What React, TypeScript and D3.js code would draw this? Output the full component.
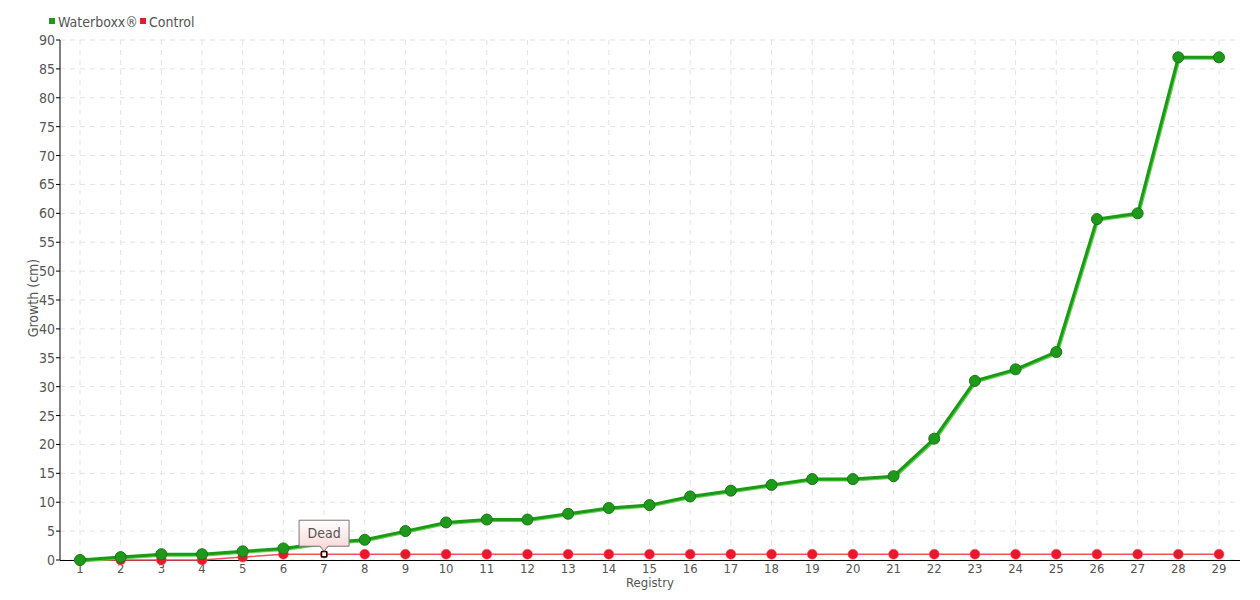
import React from "react";
import * as d3 from "d3";

const categories = [1,2,3,4,5,6,7,8,9,10,11,12,13,14,15,16,17,18,19,20,21,22,23,24,25,26,27,28,29];
const waterboxx = [0,0.5,1,1,1.5,2,3,3.5,5,6.5,7,7,8,9,9.5,11,12,13,14,14,14.5,21,31,33,36,59,60,87,87];
const control = [0,0,0,0,0.5,1,1,1,1,1,1,1,1,1,1,1,1,1,1,1,1,1,1,1,1,1,1,1,1];
const yTicks = [0,5,10,15,20,25,30,35,40,45,50,55,60,65,70,75,80,85,90];
const seriesNames = ["Waterboxx®", "Control"];
const deadIndex = 6;
const deadLabel = "Dead";

const W = 1260, H = 600;
const FONT = "'DejaVu Sans Condensed', 'Liberation Sans Narrow', sans-serif";

export default function App() {
  const x = d3.scaleLinear().domain([1, 29]).range([80, 1219]);
  const y = d3.scaleLinear().domain([0, 90]).range([560, 40]);
  const line = d3.line<number>().x((_, i) => x(categories[i])).y(d => y(d));
  const dx = x(categories[deadIndex]);
  const dy = y(control[deadIndex]);
  return (
    <svg width={W} height={H} style={{ position: "absolute", left: 0, top: 0, fontFamily: FONT }}>
      <defs>
        <linearGradient id="tip" x1="0" y1="0" x2="0" y2="1">
          <stop offset="0" stopColor="#ffffff" />
          <stop offset="1" stopColor="#fbd3d3" />
        </linearGradient>
      </defs>
      {/* grid */}
      {yTicks.map(t => (
        <line key={"gy" + t} x1={60} x2={1240} y1={y(t)} y2={y(t)} stroke="#e3e3e3" strokeDasharray="5,5" />
      ))}
      {categories.map(c => (
        <line key={"gx" + c} x1={x(c)} x2={x(c)} y1={40} y2={560} stroke="#e3e3e3" strokeDasharray="5,5" />
      ))}
      {/* axes */}
      <line x1={60} x2={60} y1={40} y2={560} stroke="#000" />
      <line x1={60} x2={1240} y1={560.5} y2={560.5} stroke="#000" />
      {yTicks.map(t => (
        <g key={"ty" + t}>
          <line x1={56} x2={60} y1={y(t)} y2={y(t)} stroke="#000" />
          <text x={55} y={y(t) + 5} textAnchor="end" fontSize={14} fill="#555">{t}</text>
        </g>
      ))}
      {categories.map(c => (
        <text key={"tx" + c} x={x(c)} y={573} textAnchor="middle" fontSize={13} fill="#555">{c}</text>
      ))}
      <text x={650} y={587} textAnchor="middle" fontSize={13} fill="#555">Registry</text>
      <text transform={`translate(38,298) rotate(-90)`} textAnchor="middle" fontSize={14} fill="#555">Growth (cm)</text>
      {/* control */}
      <path d={line(control) || ""} fill="none" stroke="#ff4d5a" strokeWidth={1.5} />
      {control.map((v, i) => i === deadIndex ? null : (
        <circle key={"c" + i} cx={x(categories[i])} cy={y(v)} r={5} fill="#e8192c" stroke="#ff5a66" strokeWidth={0.5} />
      ))}
      {/* waterboxx */}
      <path d={line(waterboxx) || ""} fill="none" stroke="#5fcf4f" strokeWidth={3} transform="translate(1,1)" />
      <path d={line(waterboxx) || ""} fill="none" stroke="#1b9a16" strokeWidth={3} />
      {waterboxx.map((v, i) => (
        <circle key={"w" + i} cx={x(categories[i])} cy={y(v)} r={5.5} fill="#1e9a1a" stroke="#1a7318" strokeWidth={1} />
      ))}
      {/* dead point */}
      <circle cx={dx} cy={dy} r={4} fill="#e8192c" />
      <rect x={dx - 2.5} y={dy - 2.5} width={5} height={5} fill="#fff" stroke="#000" strokeWidth={1.2} />
      {/* tooltip */}
      <path d={`M${dx - 25},${dy - 34} h50 v26 h-21 l-4,5 l-4,-5 h-21 z`} fill="url(#tip)" stroke="#777" strokeWidth={1} />
      <text x={dx} y={dy - 16} textAnchor="middle" fontSize={14} fill="#555">{deadLabel}</text>
      {/* legend */}
      <rect x={49} y={18} width={6} height={6} fill="#1e9a1a" />
      <text x={58} y={27} fontSize={14} fill="#555">{seriesNames[0]}</text>
      <rect x={140} y={18} width={6} height={6} fill="#e8192c" />
      <text x={149} y={27} fontSize={14} fill="#555">{seriesNames[1]}</text>
    </svg>
  );
}
